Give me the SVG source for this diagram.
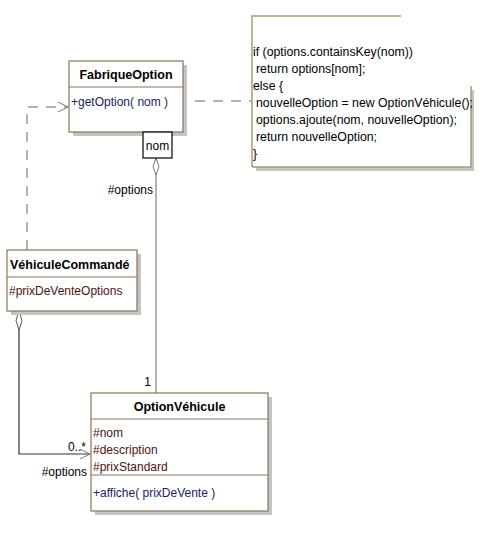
<svg xmlns="http://www.w3.org/2000/svg" width="481" height="534" viewBox="0 0 481 534">
<style>
text{font-family:"Liberation Sans",Arial,sans-serif;font-size:12px;fill:#000}
.t{font-weight:bold;font-size:12.5px}
.box{fill:#fff;stroke:#8b7358;stroke-width:1.2}
.sh{fill:#c4c4c4}
.div{stroke:#8b7358;stroke-width:1.2}
.op{fill:#1c1c5c}
.at{fill:#4a1414}
.dash{fill:none;stroke:#999;stroke-width:1.5;stroke-dasharray:10 8}
.ln{fill:none;stroke:#999;stroke-width:1.5}
.ln2{fill:none;stroke:#333;stroke-width:1.2}
.note{font-size:12.3px}
</style>
<defs>
<marker id="open" viewBox="0 0 10 10" refX="10" refY="5" markerWidth="10" markerHeight="10" markerUnits="userSpaceOnUse" orient="auto">
<path d="M0,0 L10,5 L0,10" fill="none" stroke="#777" stroke-width="1"/>
</marker>
</defs>
<g id="connectors">
<path class="dash" d="M27,250 V107 H68" marker-end="url(#open)"/>
<path class="dash" d="M195,101 H252"/>
<circle cx="181" cy="101" r="2.5" fill="#fff" stroke="#b07040" stroke-width="1"/>
<path class="ln" d="M156,175 V393"/>
<path d="M156,158 L159,166.5 L156,175 L153,166.5 Z" fill="#fff" stroke="#777" stroke-width="1"/>
<path class="ln2" d="M19,330 V454 H90" marker-end="url(#open)"/>
<path d="M19,311 L22,320.5 L19,330 L16,320.5 Z" fill="#fff" stroke="#555" stroke-width="1"/>
<text x="153" y="194" text-anchor="end">#options</text>
<text x="151" y="386" text-anchor="end">1</text>
<text x="86" y="451" text-anchor="end">0..*</text>
<text x="87" y="476" text-anchor="end">#options</text>
</g>
<g id="FabriqueOption">
<rect class="sh" x="73" y="65" width="114" height="71"/>
<rect class="box" x="69" y="61" width="114" height="71"/>
<line class="div" x1="69" y1="87" x2="183" y2="87"/>
<text class="t" x="126" y="79" text-anchor="middle">FabriqueOption</text>
<text class="op" x="71" y="106">+getOption( nom )</text>
</g>
<g id="qualifier-nom">
<rect x="143" y="132" width="29" height="26" fill="#fff" stroke="#000" stroke-width="1.2"/>
<text x="157.5" y="150" text-anchor="middle">nom</text>
</g>
<g id="note">
<path class="sh" d="M474,90 V171 H256 V167 H471 V90 Z"/>
<rect x="252.8" y="16.8" width="217" height="149.5" fill="#fff"/>
<path d="M252,167 V16 H401 M471,86 V167 H252" fill="none" stroke="#a89c70" stroke-width="1.5"/>
<text class="note" x="253" y="56">if (options.containsKey(nom))</text>
<text class="note" x="256" y="73">return options[nom];</text>
<text class="note" x="253" y="90">else {</text>
<text class="note" x="256" y="107">nouvelleOption = new OptionVéhicule();</text>
<text class="note" x="256" y="124">options.ajoute(nom, nouvelleOption);</text>
<text class="note" x="256" y="141">return nouvelleOption;</text>
<text class="note" x="253" y="158">}</text>
</g>
<g id="VehiculeCommande">
<rect class="sh" x="11" y="254" width="130" height="61"/>
<rect class="box" x="7" y="250" width="130" height="61"/>
<line class="div" x1="7" y1="277" x2="137" y2="277"/>
<text class="t" x="10" y="269">VéhiculeCommandé</text>
<text class="at" x="9" y="295">#prixDeVenteOptions</text>
</g>
<g id="OptionVehicule">
<rect class="sh" x="95" y="397" width="177" height="118"/>
<rect class="box" x="91" y="393" width="177" height="118"/>
<line class="div" x1="91" y1="419" x2="268" y2="419"/>
<line class="div" x1="91" y1="475" x2="268" y2="475"/>
<text class="t" x="179.5" y="411" text-anchor="middle">OptionVéhicule</text>
<text class="at" x="93" y="437">#nom</text>
<text class="at" x="93" y="454">#description</text>
<text class="at" x="93" y="471">#prixStandard</text>
<text class="op" x="93" y="497">+affiche( prixDeVente )</text>
</g>
</svg>
